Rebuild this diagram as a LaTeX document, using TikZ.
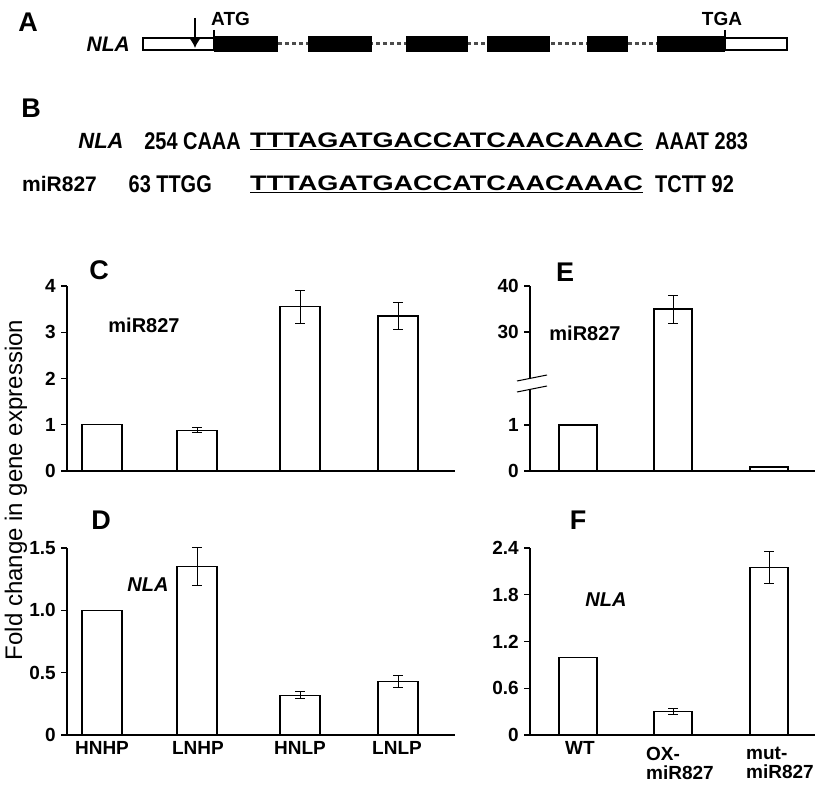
\documentclass[tikz,border=0pt]{standalone}
\usepackage{fontspec}
\setmainfont{Liberation Sans}
\usetikzlibrary{positioning,arrows.meta}
\newcommand{\wide}[1]{\scalebox{1.29}[1]{#1}}
\newcommand{\tall}[1]{\scalebox{0.95}[1.15]{#1}}
\tikzset{
  lab/.style={font=\fontsize{19}{19}\bfseries\selectfont, inner sep=1pt},
  panel/.style={font=\fontsize{27}{27}\bfseries\selectfont, inner sep=0pt},
  seq/.style={font=\fontsize{21}{21}\bfseries\selectfont, inner sep=0pt},
  bar/.style={draw, line width=1.2pt, fill=white},
  err/.style={line width=1pt},
  axis/.style={line width=1.2pt},
  exon/.style={fill=black},
  utr/.style={draw, line width=1.5pt, fill=white}
}
\begin{document}
\begin{tikzpicture}[x=1pt,y=-1pt]
\useasboundingbox (0,0) rectangle (830,800);
% A: gene model
\node[panel] (pA) at (28,22) {A};
\node[lab, font=\fontsize{21}{21}\bfseries\itshape\selectfont, anchor=east] (gene) at (131,44) {NLA};
\draw[line width=3pt, dash pattern=on 4pt off 3pt, gray!60!black] (278,44) -- (725,44);
\draw[utr] (143,38) rectangle (214,50);
\draw[utr] (725,38) rectangle (787,50);
\foreach \a/\b in {214/278, 308/372, 406/468, 487/550, 587/628, 657/725}
  \fill[exon] (\a,36) rectangle (\b,52);
\draw[line width=1.5pt] (214,30) -- (214,38);
\draw[line width=1.5pt] (725,30) -- (725,38);
\node[lab, anchor=south west] (atg) at (210,27) {ATG};
\node[lab, anchor=south] (tga) at (722,27) {TGA};
\draw[line width=2.5pt, -{Latex[length=10pt,width=12pt]}] (195,18) -- (195,48);
% B: alignment
\node[panel] (pB) at (31,108) {B};
\node[lab, font=\fontsize{22}{22}\bfseries\itshape\selectfont] (nla) at (101,141) {NLA};
\node[seq, anchor=east] (s1a) at (241,141) {\tall{254 CAAA}};
\node[seq, anchor=west] (s1b) at (250,141) {\wide{\underline{TTTAGATGACCATCAACAAAC}}};
\node[seq, anchor=west] (s1c) at (655,141) {\tall{AAAT 283}};
\node[lab, font=\fontsize{21}{21}\bfseries\selectfont, anchor=west] (mir) at (21,184) {miR827};
\node[seq, anchor=east] (s2a) at (212,184) {\tall{63 TTGG}};
\node[seq, anchor=west] (s2b) at (250,184) {\wide{\underline{TTTAGATGACCATCAACAAAC}}};
\node[seq, anchor=west] (s2c) at (655,184) {\tall{TCTT 92}};
% y label
\node[font=\fontsize{24}{24}\selectfont, inner sep=0pt, rotate=90] (ylab) at (16,490) {Fold change in gene expression};
% C
\begin{scope}[shift={(67,471)}, y=46.25pt]
  \draw[axis] (0,4) -- (0,0) -- (388,0);
  \foreach \t in {0,...,4} {
    \draw[axis] (-6,\t) -- (0,\t);
    \node[lab, anchor=east] at (-10,\t) {\t};
  }
  \foreach \x/\v/\e in {15/1/0, 110/0.88/0.05, 213/3.55/0.35, 311/3.35/0.3} {
    \draw[bar] (\x,0) rectangle (\x+40,\v);
    \ifdim \e pt>0pt
      \draw[err] (\x+20,\v-\e) -- (\x+20,\v+\e) (\x+15,\v-\e) -- (\x+25,\v-\e) (\x+15,\v+\e) -- (\x+25,\v+\e);
    \fi
  }
\end{scope}
\node[panel] (pC) at (99,270) {C};
\node[lab, font=\fontsize{20}{20}\bfseries\selectfont] (cmir) at (144,325) {miR827};
% D
\begin{scope}[shift={(67,735)}, y=124.7pt]
  \draw[axis] (0,1.5) -- (0,0) -- (388,0);
  \foreach \t/\s in {0/0, 0.5/0.5, 1/1.0, 1.5/1.5} {
    \draw[axis] (-6,\t) -- (0,\t);
    \node[lab, anchor=east] at (-10,\t) {\s};
  }
  \foreach \x/\v/\e in {15/1/0, 110/1.35/0.15, 213/0.32/0.03, 311/0.43/0.05} {
    \draw[bar] (\x,0) rectangle (\x+40,\v);
    \ifdim \e pt>0pt
      \draw[err] (\x+20,\v-\e) -- (\x+20,\v+\e) (\x+15,\v-\e) -- (\x+25,\v-\e) (\x+15,\v+\e) -- (\x+25,\v+\e);
    \fi
  }
\end{scope}
\node[panel] (pD) at (101,520) {D};
\node[lab, font=\fontsize{20}{20}\bfseries\itshape\selectfont] (dnla) at (148,585) {NLA};
\foreach \x/\t in {102/HNHP, 198/LNHP, 300/HNLP, 397/LNLP}
  \node[lab] at (\x,748) {\t};
% E
\draw[axis] (530,286) -- (530,471) -- (815,471);
\foreach \y/\t in {471/0, 425/1, 332/30, 286/40} {
  \draw[axis] (524,\y) -- (530,\y);
  \node[lab, anchor=east] at (520,\y) {\t};
}
\fill[white] (517,381) -- (545,375) -- (545,386) -- (517,392) -- cycle;
\draw[line width=1pt] (517,381) -- (547,375) (517,392) -- (547,386);
\draw[bar] (559,471) rectangle (597,425);
\draw[bar] (654,471) rectangle (692,309);
\draw[err] (673,295) -- (673,323) (668,295) -- (678,295) (668,323) -- (678,323);
\draw[bar] (750,471) rectangle (788,467);
\node[panel] (pE) at (565,272) {E};
\node[lab, font=\fontsize{20}{20}\bfseries\selectfont] (emir) at (585,333) {miR827};
% F
\begin{scope}[shift={(530,735)}, y=77.9pt]
  \draw[axis] (0,2.4) -- (0,0) -- (285,0);
  \foreach \t in {0,0.6,1.2,1.8,2.4} {
    \draw[axis] (-6,\t) -- (0,\t);
    \node[lab, anchor=east] at (-10,\t) {\t};
  }
  \foreach \x/\v/\e in {29/1/0, 124/0.3/0.04, 220/2.15/0.2} {
    \draw[bar] (\x,0) rectangle (\x+38,\v);
    \ifdim \e pt>0pt
      \draw[err] (\x+19,\v-\e) -- (\x+19,\v+\e) (\x+14,\v-\e) -- (\x+24,\v-\e) (\x+14,\v+\e) -- (\x+24,\v+\e);
    \fi
  }
\end{scope}
\node[panel] (pF) at (578,520) {F};
\node[lab, font=\fontsize{20}{20}\bfseries\itshape\selectfont] (fnla) at (606,600) {NLA};
\node[lab] (wt) at (580,748) {WT};
\node[lab, align=left] (ox) at (680,763) {OX-\\miR827};
\node[lab, align=left] (mut) at (780,763) {mut-\\miR827};
\end{tikzpicture}
\end{document}
